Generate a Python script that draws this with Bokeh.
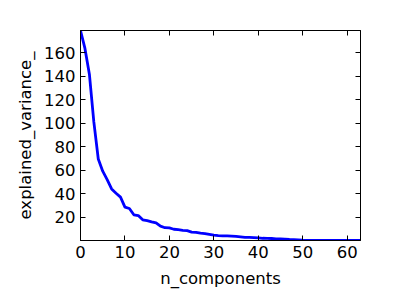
import numpy as np
from bokeh.plotting import figure
from bokeh.models import Range1d, LinearAxis, FixedTicker
from bokeh.embed import file_html
from bokeh.resources import INLINE

explained_variance = [
    179.0, 163.7, 141.8, 101.1, 69.5, 59.1, 51.9, 44.0, 40.3, 37.0,
    28.5, 27.3, 21.9, 21.3, 17.6, 16.9, 15.9, 15.0, 12.2, 10.9,
    10.7, 9.6, 9.2, 8.7, 8.4, 7.2, 6.9, 6.2, 5.9, 5.2,
    4.5, 4.2, 4.0, 3.9, 3.7, 3.5, 3.1, 2.7, 2.7, 2.5,
    2.3, 1.9, 1.8, 1.7, 1.4, 1.3, 1.2, 0.9, 0.7, 0.5,
    0.25, 0.1, 0.06, 0.06, 0.04, 0.015, 0.008, 0.004, 0.001, 0.0006,
    0.0003, 0.0, 0.0, 0.0,
]
n_components = list(range(len(explained_variance)))
x_ticks = [0, 10, 20, 30, 40, 50, 60]
y_ticks = [20, 40, 60, 80, 100, 120, 140, 160]

FONT = "DejaVu Sans"
FS = "16.5px"

p = figure(width=400, height=300, output_backend="svg", toolbar_location=None,
           x_range=Range1d(0, 63), y_range=Range1d(0, 179.0),
           min_border_left=80, min_border_right=40, min_border_top=30, min_border_bottom=60)
p.line(n_components, explained_variance, line_color="#0000ff", line_width=2.8)

p.xgrid.visible = False
p.ygrid.visible = False
p.outline_line_color = "black"
p.outline_line_width = 1
p.background_fill_color = "white"
p.border_fill_color = "white"

def style(ax, ticks, labels=True):
    ax.ticker = FixedTicker(ticks=ticks)
    ax.major_tick_in = 5
    ax.major_tick_out = 0
    ax.minor_tick_line_color = None
    ax.axis_line_color = "black"
    ax.major_tick_line_color = "black"
    ax.major_label_text_font = FONT
    ax.major_label_text_font_size = FS
    ax.major_label_text_color = "black"
    ax.axis_label_text_font = FONT
    ax.axis_label_text_font_size = FS
    ax.axis_label_text_font_style = "normal"
    ax.axis_label_text_color = "black"
    ax.major_label_standoff = 5
    if not labels:
        ax.major_label_overrides = {t: "" for t in ticks}
        ax.major_label_standoff = 0

xa = p.xaxis[0]
ya = p.yaxis[0]
style(xa, x_ticks)
style(ya, y_ticks)
xa.axis_label = "n_components"
ya.axis_label = "explained_variance_"
xa.axis_label_standoff = 8
ya.axis_label_standoff = 6

top = LinearAxis()
style(top, x_ticks, labels=False)
p.add_layout(top, "above")
right = LinearAxis()
style(right, y_ticks, labels=False)
p.add_layout(right, "right")

open("out.html", "w").write(file_html(p, INLINE))
